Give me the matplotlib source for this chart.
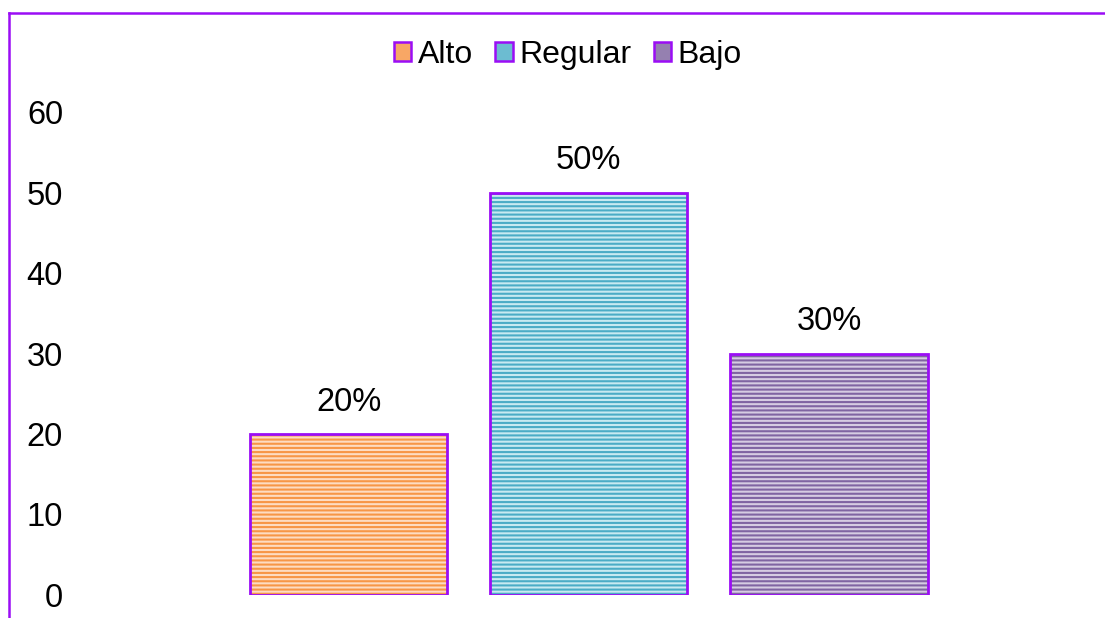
import matplotlib
matplotlib.use("Agg")
import matplotlib.pyplot as plt
from matplotlib.lines import Line2D
from matplotlib.patches import Patch

categories = ["Alto", "Regular", "Bajo"]
values = [20, 50, 30]
labels = ["20%", "50%", "30%"]
yticks = [0, 10, 20, 30, 40, 50, 60]

face_colors = ["#FDDCC2", "#C8EAF1", "#D6CCE2"]
hatch_colors = ["#F79646", "#4BACC6", "#8064A2"]
legend_colors = ["#F8A765", "#6CBCD1", "#9580B0"]
edge = "#9B0DF5"

plt.rcParams['font.family'] = ['Liberation Sans', 'DejaVu Sans']
plt.rcParams['hatch.linewidth'] = 1.5

W, H = 1105, 618
fig = plt.figure(figsize=(W / 100, H / 100), dpi=100)

ax_left, ax_right = 70, 1000
ax_bottom, ax_top = 595, 112
ax = fig.add_axes([ax_left / W, (H - ax_bottom) / H,
                   (ax_right - ax_left) / W, (ax_bottom - ax_top) / H])

x = list(range(len(categories)))
unit = 240.25
c0 = 348.5
ax.set_xlim((ax_left - c0) / unit, (ax_right - c0) / unit)
ax.set_ylim(0, 60)

bw = 0.82
for i, (v, fc, hc) in enumerate(zip(values, face_colors, hatch_colors)):
    ax.bar(x[i], v, width=bw, color=fc, edgecolor='none', zorder=2)
    ax.bar(x[i], v, width=bw, color='none', edgecolor=hc, hatch='----',
           linewidth=0, zorder=3)
    ax.bar(x[i], v, width=bw, color='none', edgecolor=edge, linewidth=2,
           zorder=4)
    ax.text(x[i], v + 2.0, labels[i], ha='center', va='bottom', fontsize=23.5,
            color='black')

ax.set_yticks(yticks)
ax.set_yticklabels([str(t) for t in yticks], fontsize=23.5)
ax.set_xticks([])
ax.tick_params(axis='y', length=0, pad=5)
for s in ax.spines.values():
    s.set_visible(False)

handles = [Patch(facecolor=lc, edgecolor=edge, linewidth=1.8, label=cat)
           for cat, lc in zip(categories, legend_colors)]
leg = fig.legend(handles=handles, loc='center', bbox_to_anchor=(568 / W, 1 - 55 / H),
                 ncol=3, frameon=False, fontsize=23, handlelength=0.55,
                 handleheight=0.55, handletextpad=0.2, columnspacing=0.7)

fig.add_artist(Line2D([8.5 / W, 1.0], [1 - 13 / H, 1 - 13 / H], color=edge,
                      linewidth=1.8, transform=fig.transFigure))
fig.add_artist(Line2D([8.5 / W, 8.5 / W], [0, 1 - 13 / H], color=edge,
                      linewidth=1.8, transform=fig.transFigure))

fig.savefig("out.png", dpi=100)
